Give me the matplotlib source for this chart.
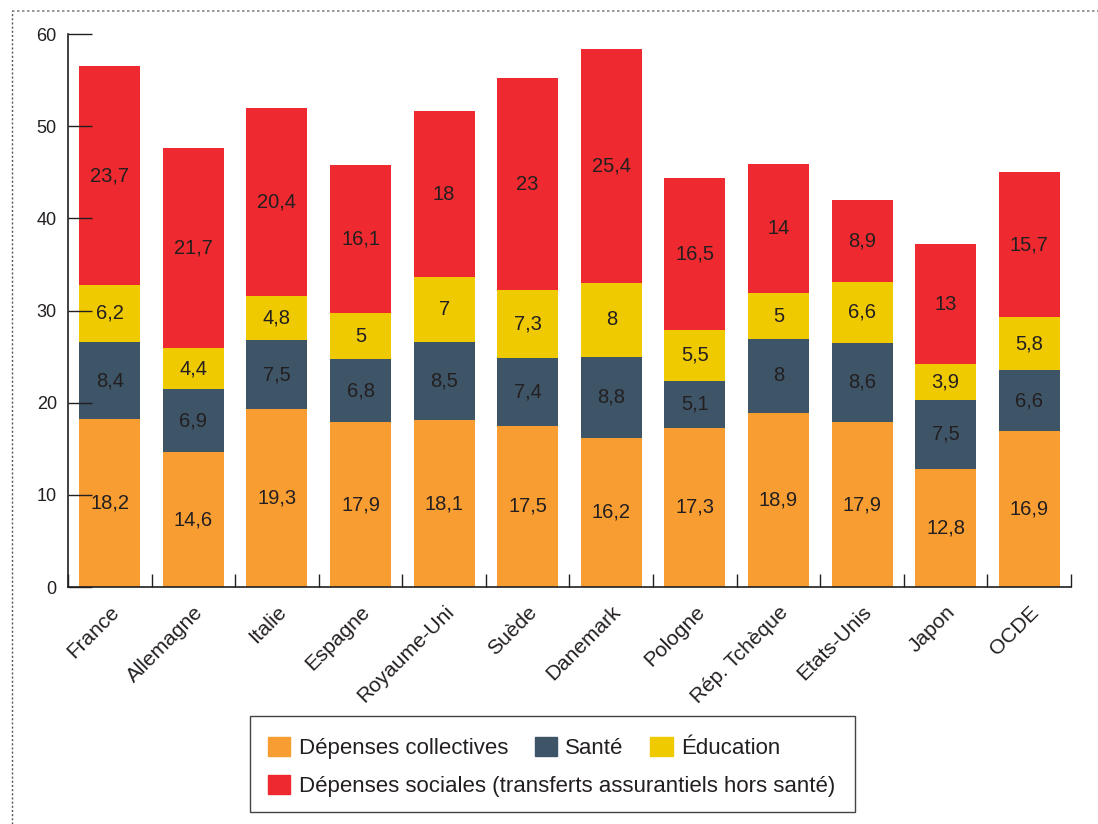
import numpy as np
import matplotlib
matplotlib.use("Agg")
import matplotlib.pyplot as plt
from matplotlib.patches import Patch, Rectangle
from matplotlib.lines import Line2D

plt.rcParams['font.family'] = ['Liberation Sans', 'DejaVu Sans']

# --- données ---
pays = ['France', 'Allemagne', 'Italie', 'Espagne', 'Royaume-Uni', 'Suède',
        'Danemark', 'Pologne', 'Rép. Tchèque', 'Etats-Unis', 'Japon', 'OCDE']
collectives = [18.2, 14.6, 19.3, 17.9, 18.1, 17.5, 16.2, 17.3, 18.9, 17.9, 12.8, 16.9]
sante       = [8.4, 6.9, 7.5, 6.8, 8.5, 7.4, 8.8, 5.1, 8, 8.6, 7.5, 6.6]
education   = [6.2, 4.4, 4.8, 5, 7, 7.3, 8, 5.5, 5, 6.6, 3.9, 5.8]
sociales    = [23.7, 21.7, 20.4, 16.1, 18, 23, 25.4, 16.5, 14, 8.9, 13, 15.7]

series = [
    ('Dépenses collectives', collectives, '#F79D32'),
    ('Santé', sante, '#3E5467'),
    ('Éducation', education, '#F0CA00'),
    ('Dépenses sociales (transferts assurantiels hors santé)', sociales, '#EE2A30'),
]

fig = plt.figure(figsize=(10.98, 8.24), dpi=100)
ax = fig.add_axes([0.0619, 0.2876, 0.9135, 0.6711])

x = np.arange(len(pays))
bottom = np.zeros(len(pays))
txt = '#231F20'
for nom, vals, col in series:
    vals = np.array(vals, dtype=float)
    ax.bar(x, vals, 0.73, bottom=bottom, color=col, zorder=1)
    for xi, b, v in zip(x, bottom, vals):
        lab = f"{v:g}".replace('.', ',')
        ax.text(xi, b + v / 2, lab, ha='center', va='center', fontsize=14.5, color=txt, zorder=3)
    bottom += vals

ax.set_xlim(-0.5, len(pays) - 0.5)
ax.set_ylim(0, 60)
ax.set_yticks(range(0, 61, 10))
ax.tick_params(axis='y', direction='in', length=17, width=1, labelsize=13, pad=8, colors=txt)
ax.set_xticks(x)
ax.set_xticklabels(pays, rotation=45, ha='right', va='top', rotation_mode='anchor', fontsize=15, color=txt)
ax.tick_params(axis='x', length=0, pad=11)
ax.set_xticks(np.arange(-0.5, len(pays), 1), minor=True)
ax.tick_params(axis='x', which='minor', direction='in', length=9.5, width=1, color=txt)
for s in ['top', 'right']:
    ax.spines[s].set_visible(False)
for s in ['left', 'bottom']:
    ax.spines[s].set_color(txt)
    ax.spines[s].set_linewidth(1.2)
for t in ax.yaxis.get_major_ticks():
    t.tick1line.set_zorder(4)
ax.set_axisbelow(False)

# --- cadre pointillé ---
fig.add_artist(Line2D([12/1098, 1], [1 - 11/824] * 2, transform=fig.transFigure,
                      color='#888888', lw=1.2, ls=(0, (1.5, 1.5))))
fig.add_artist(Line2D([12/1098] * 2, [0, 1 - 11/824], transform=fig.transFigure,
                      color='#555555', lw=1, ls=(0, (1.5, 1.5))))

# --- légende ---
fig.add_artist(Rectangle((250/1098, 1 - 812/824), (855 - 250)/1098, (812 - 716)/824,
                         transform=fig.transFigure, fill=False, edgecolor='#444444', lw=1))
h1 = [Patch(color=c, label=n) for n, _, c in series[:3]]
h2 = [Patch(color=c, label=n) for n, _, c in series[3:]]
kw = dict(frameon=False, fontsize=16, handlelength=1.0, handleheight=0.95,
          handletextpad=0.38, borderpad=0, borderaxespad=0, labelcolor=txt)
fig.legend(handles=h1, ncol=3, loc='center left', bbox_to_anchor=(268/1098, 1 - 748/824),
           columnspacing=1.2, **kw)
fig.legend(handles=h2, ncol=1, loc='center left', bbox_to_anchor=(268/1098, 1 - 786/824), **kw)

fig.savefig('out.png', dpi=100)
